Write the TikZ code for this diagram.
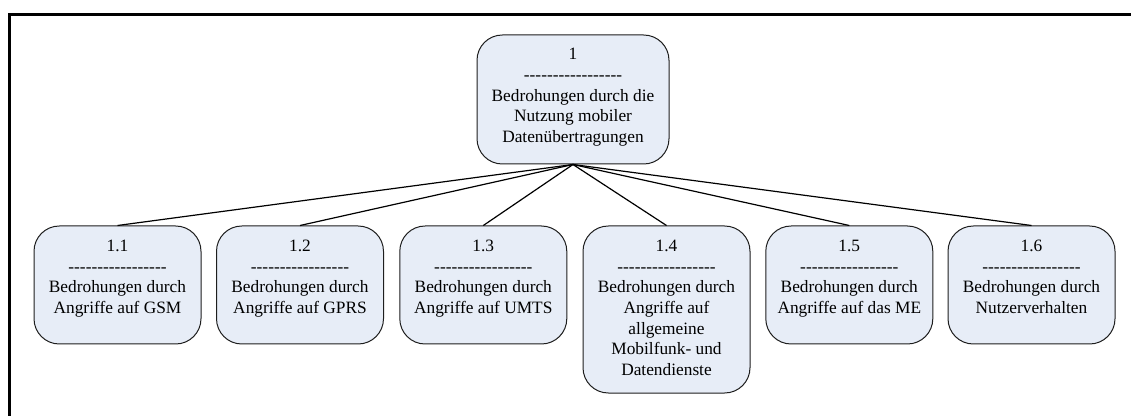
\documentclass[tikz,border=0pt]{standalone}
\usepackage{fontspec}
\setmainfont{Liberation Serif}[Ligatures=TeXOff]
\definecolor{boxfill}{RGB}{231,237,247}
\definecolor{boxline}{RGB}{30,30,30}
\newcommand{\sepline}{-----------------}
\begin{document}
\begin{tikzpicture}[x=0.75pt,y=-0.75pt,
  treebox/.style={draw=boxline,fill=boxfill,line width=0.75pt,rounded corners=19pt,
    inner sep=0pt,minimum width=125.25pt},
  leafbox/.style={treebox,minimum height=88.5pt},
  boxtext/.style={anchor=north,align=center,inner sep=0pt,
    font=\fontsize{13pt}{15.5pt}\selectfont},
  link/.style={draw=black,line width=0.9pt}]
\useasboundingbox (0,0) rectangle (1131,416);
% frame (only top and left edges visible)
\draw[line width=2.25pt] (9.5,416) -- (9.5,14.5) -- (1131,14.5);

% root
\node[treebox,minimum width=144pt,minimum height=96.75pt] (r) at (573,99.5) {};
% children
\node[leafbox] (c1) at (117.5,285) {};
\node[leafbox] (c2) at (300,285) {};
\node[leafbox] (c3) at (483.3,285) {};
\node[treebox,minimum height=125.25pt] (c4) at (666.5,309.5) {};
\node[leafbox] (c5) at (849.3,285) {};
\node[leafbox] (c6) at (1031.5,285) {};

% connectors
\foreach \c in {c1,c2,c3,c4,c5,c6}
  \draw[link] (r.south) -- (\c.north);

% labels
\node[boxtext] (tr) at ([yshift=-10.2pt]r.north) {1\\\sepline\\Bedrohungen durch die\\Nutzung mobiler\\Datenübertragungen};
\node[boxtext] (t1) at ([yshift=-10.7pt]c1.north) {1.1\\\sepline\\Bedrohungen durch\\Angriffe auf GSM};
\node[boxtext] (t2) at ([yshift=-10.7pt]c2.north) {1.2\\\sepline\\Bedrohungen durch\\Angriffe auf GPRS};
\node[boxtext] (t3) at ([yshift=-10.7pt]c3.north) {1.3\\\sepline\\Bedrohungen durch\\Angriffe auf UMTS};
\node[boxtext] (t4) at ([yshift=-10.7pt]c4.north) {1.4\\\sepline\\Bedrohungen durch\\Angriffe auf\\allgemeine\\Mobilfunk- und\\Datendienste};
\node[boxtext] (t5) at ([yshift=-10.7pt]c5.north) {1.5\\\sepline\\Bedrohungen durch\\Angriffe auf das ME};
\node[boxtext] (t6) at ([yshift=-10.7pt]c6.north) {1.6\\\sepline\\Bedrohungen durch\\Nutzerverhalten};
\end{tikzpicture}
\end{document}
